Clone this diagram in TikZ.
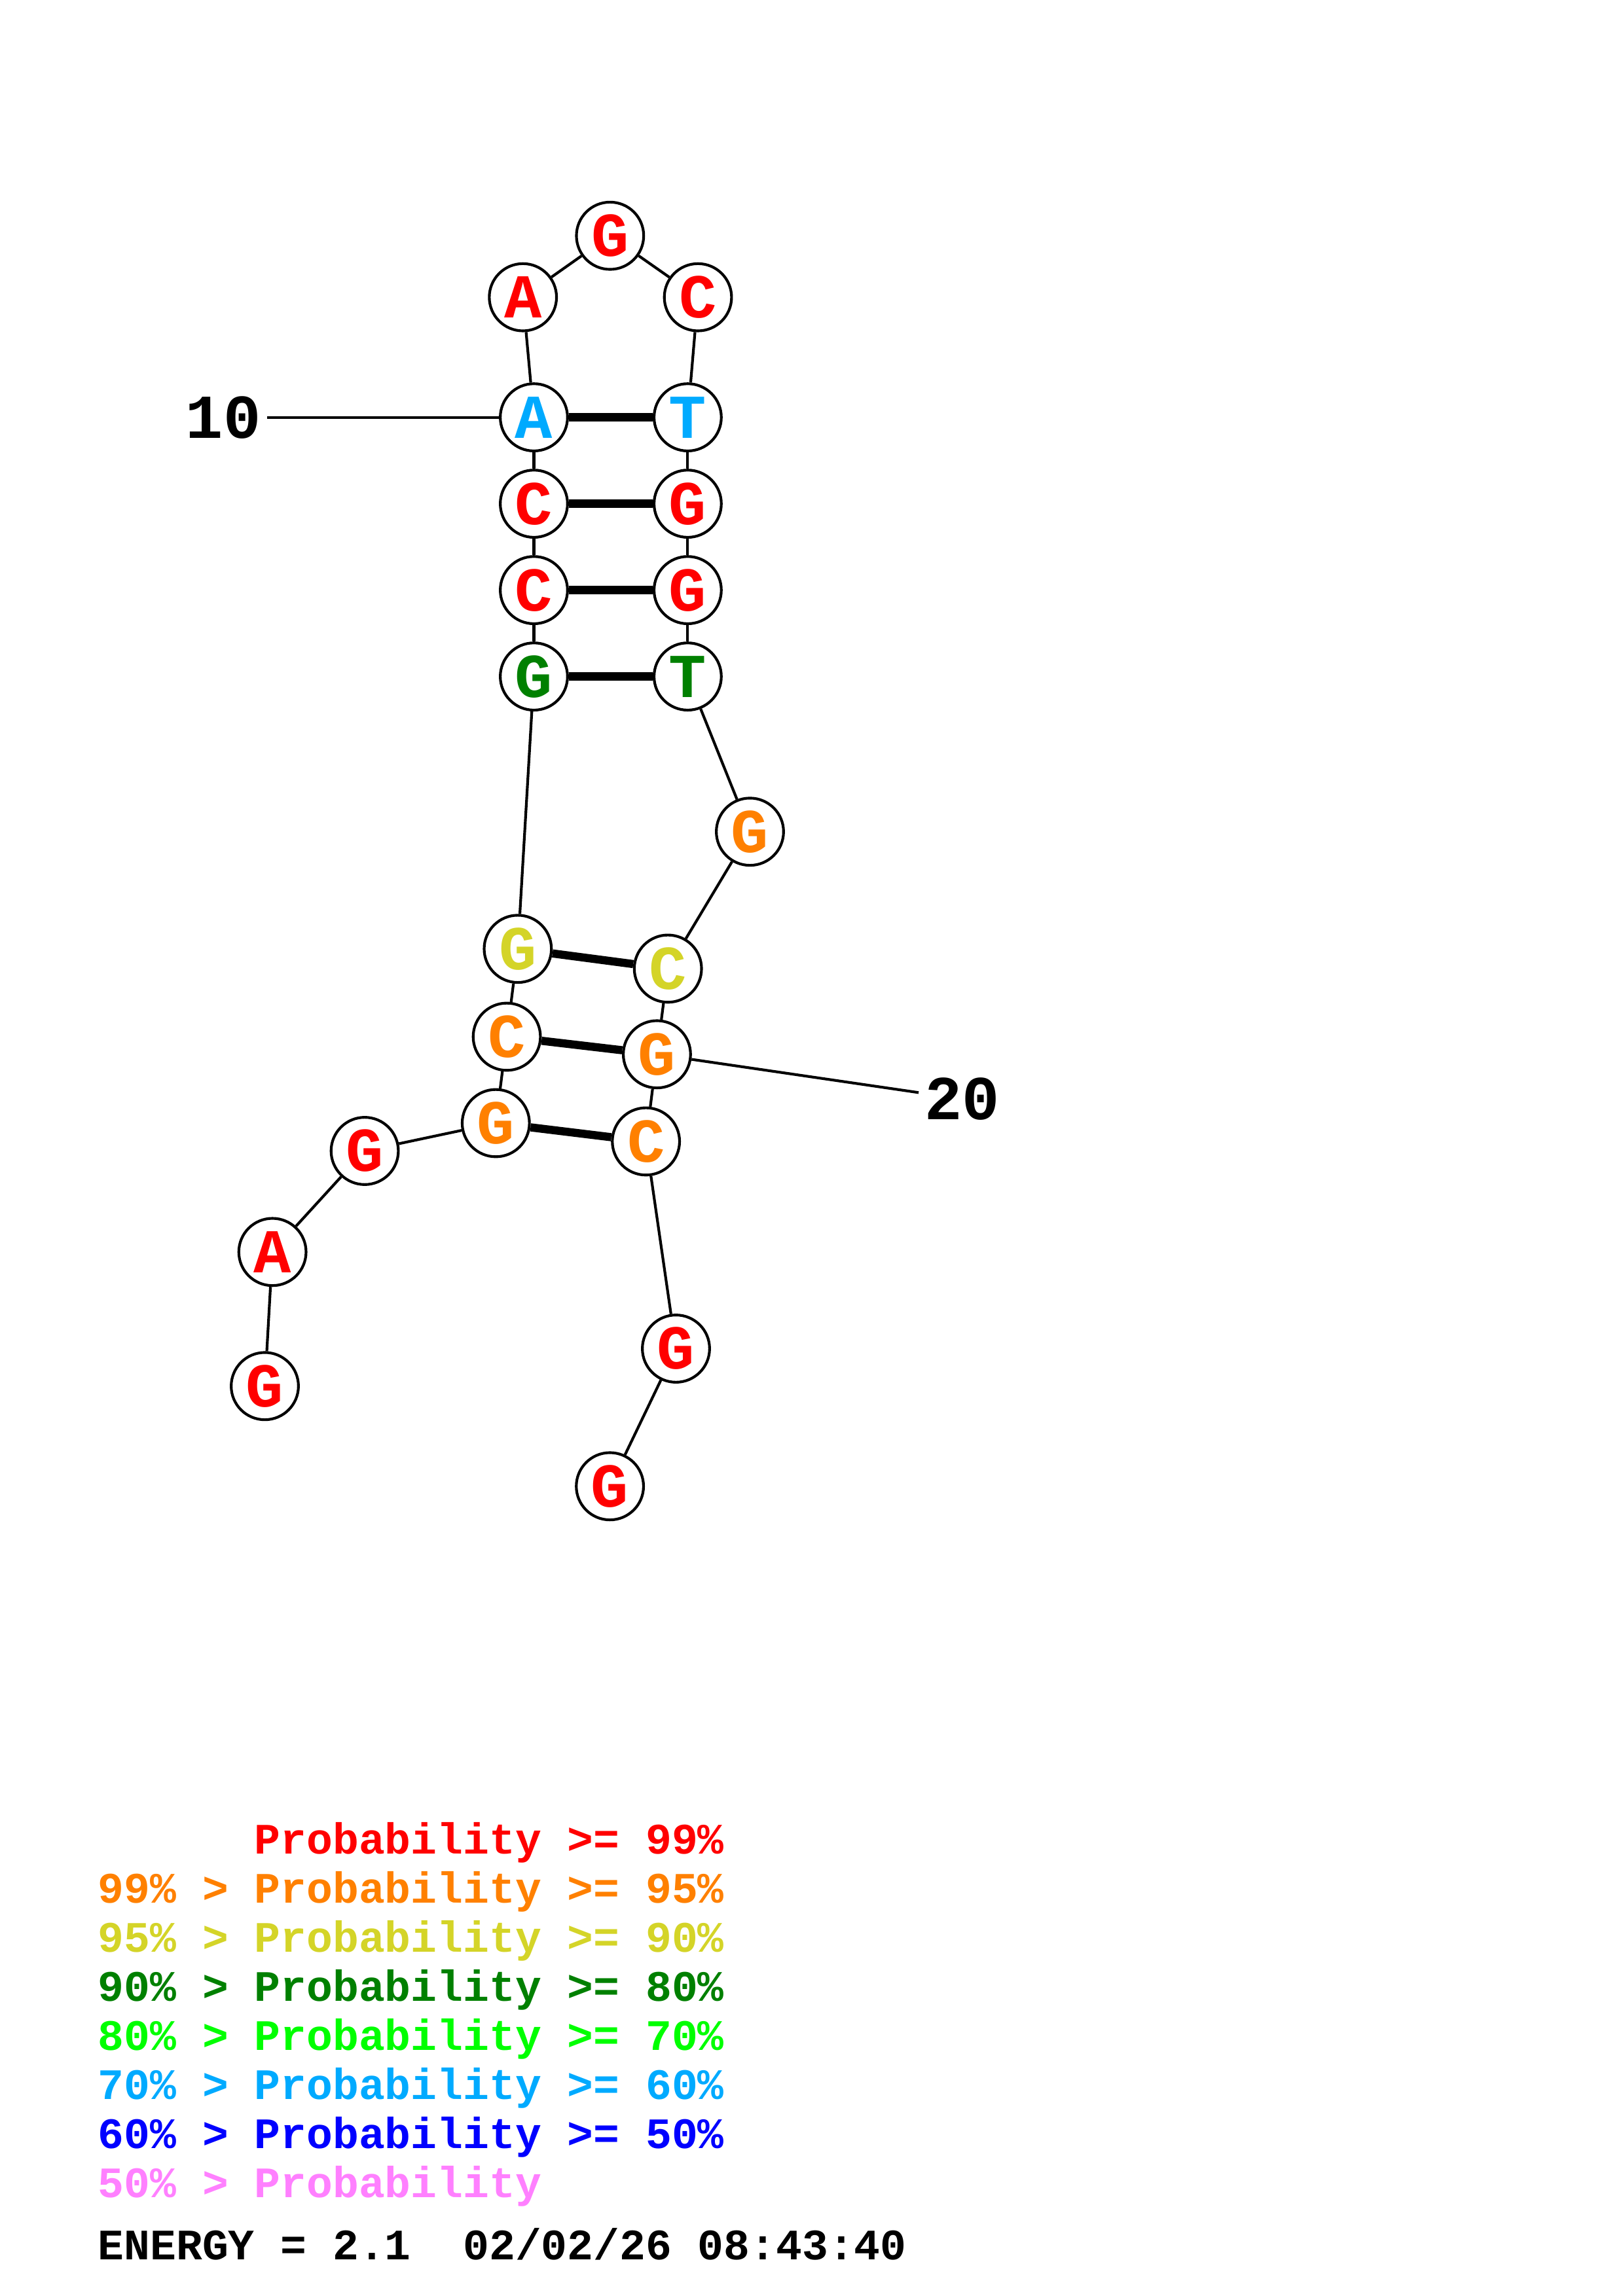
\documentclass[tikz,border=0pt]{standalone}
\usepackage{fontspec}
\setmonofont{Liberation Mono}
\definecolor{pr99}{RGB}{255,0,0}
\definecolor{pr95}{RGB}{255,128,0}
\definecolor{pr90}{RGB}{212,212,40}
\definecolor{pr80}{RGB}{0,128,0}
\definecolor{pr70}{RGB}{0,255,0}
\definecolor{pr60}{RGB}{0,170,255}
\definecolor{pr50}{RGB}{0,0,255}
\definecolor{prlow}{RGB}{255,128,255}
\begin{document}
\begin{tikzpicture}[x=0.018953cm,y=-0.018953cm,line join=round,line width=1pt,
  base/.style={circle,draw,fill=white,line width=1pt,minimum size=0.87cm,inner sep=0pt,
    font=\ttfamily\bfseries\fontsize{23}{23}\selectfont},
  pair/.style={line width=3pt},
  numlab/.style={inner sep=1.8pt,font=\ttfamily\bfseries\fontsize{23}{23}\selectfont},
  leg/.style={anchor=base west,inner sep=0pt,font=\ttfamily\bfseries\fontsize{16}{16}\selectfont}]
\useasboundingbox (0,0) rectangle (1108,1568);

% bases, 5' to 3'
\node[base,text=pr99] (n1) at (180.8,946.6) {G};
\node[base,text=pr99] (n2) at (186,855) {A};
\node[base,text=pr99] (n3) at (249,786) {G};
\node[base,text=pr95] (n4) at (338.5,767) {G};
\node[base,text=pr95] (n5) at (346,708) {C};
\node[base,text=pr90] (n6) at (353.5,648) {G};
\node[base,text=pr80] (n7) at (364.5,462) {G};
\node[base,text=pr99] (n8) at (364.5,403) {C};
\node[base,text=pr99] (n9) at (364.5,344) {C};
\node[base,text=pr60] (n10) at (364.5,285) {A};
\node[base,text=pr99] (n11) at (357,203) {A};
\node[base,text=pr99] (n12) at (416.5,161) {G};
\node[base,text=pr99] (n13) at (476.5,203) {C};
\node[base,text=pr60] (n14) at (469.5,285) {T};
\node[base,text=pr99] (n15) at (469.5,344) {G};
\node[base,text=pr99] (n16) at (469.5,403) {G};
\node[base,text=pr80] (n17) at (469.5,462) {T};
\node[base,text=pr95] (n18) at (512,568) {G};
\node[base,text=pr90] (n19) at (456,661.5) {C};
\node[base,text=pr95] (n20) at (448.5,720) {G};
\node[base,text=pr95] (n21) at (441,779.5) {C};
\node[base,text=pr99] (n22) at (461.5,921) {G};
\node[base,text=pr99] (n23) at (416.4,1015) {G};

\foreach \a [count=\b from 2] in {1,...,22}
  \draw (n\a) -- (n\b);
\foreach \a/\b in {4/21,5/20,6/19,7/17,8/16,9/15,10/14}
  \draw[pair] (n\a) -- (n\b);

\node[numlab] (l10) at (152.5,285) {10};
\node[numlab] (l20) at (657,750.5) {20};
\draw (l10) -- (n10);
\draw (n20) -- (l20);

% legend
\node[leg,text=pr99] (k1) at (66,1266) {\hphantom{99\% > }Probability >= 99\%};
\node[leg,text=pr95] (k2) at (66,1299.5) {99\% > Probability >= 95\%};
\node[leg,text=pr90] (k3) at (66,1333) {95\% > Probability >= 90\%};
\node[leg,text=pr80] (k4) at (66,1366.5) {90\% > Probability >= 80\%};
\node[leg,text=pr70] (k5) at (66,1400) {80\% > Probability >= 70\%};
\node[leg,text=pr60] (k6) at (66,1433.5) {70\% > Probability >= 60\%};
\node[leg,text=pr50] (k7) at (66,1467) {60\% > Probability >= 50\%};
\node[leg,text=prlow] (k8) at (66,1500.5) {50\% > Probability};
\node[leg] (en) at (66,1543) {ENERGY = 2.1\ \ 02/02/26 08:43:40};
\end{tikzpicture}
\end{document}
